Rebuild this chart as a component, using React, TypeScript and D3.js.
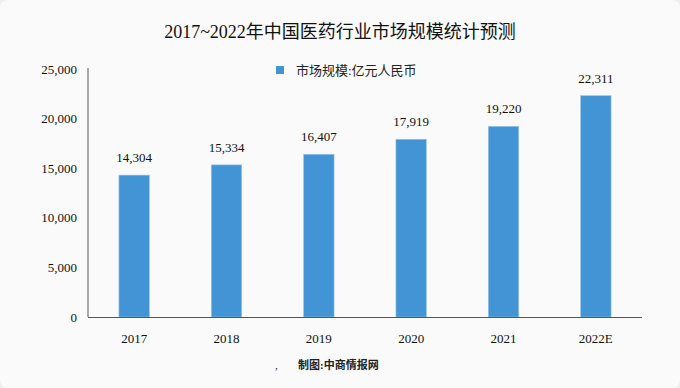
import React from "react";
import * as d3 from "d3";

const categories = ["2017", "2018", "2019", "2020", "2021", "2022E"];
const values = [14304, 15334, 16407, 17919, 19220, 22311];
const yTicks = [0, 5000, 10000, 15000, 20000, 25000];
const title = "2017~2022年中国医药行业市场规模统计预测";
const legendLabel = "市场规模:亿元人民币";
const source = "制图:中商情报网";

const W = 680;
const H = 388;
const margin = { left: 88, right: 38, top: 69, bottom: 71 };
const serif = "'Liberation Serif', 'DejaVu Serif', 'Noto Sans CJK SC', serif";
const cjk = "'Liberation Serif', 'Noto Sans CJK SC', sans-serif";
const barColor = "#4394d4";

export default function App() {
  const x = d3
    .scaleBand<string>()
    .domain(categories)
    .range([margin.left, W - margin.right])
    .paddingInner(0.67)
    .paddingOuter(0.335);
  const y = d3.scaleLinear().domain([0, 25000]).range([H - margin.bottom, margin.top]);
  const fmt = d3.format(",");

  return (
    <div style={{ position: "absolute", left: 0, top: 0 }}>
      <svg width={W} height={H} style={{ display: "block" }}>
        <rect x={0} y={0} width={W} height={H} fill="#efefef" />
        <rect x={0} y={0} width={W} height={H} rx={8} ry={8} fill="#fafafa" />
        <text x={340} y={38} textAnchor="middle" fontFamily={cjk} fontSize={18} fill="#111">
          {title}
        </text>
        {/* legend */}
        <rect x={276} y={66} width={8} height={8} fill={barColor} />
        <text x={296} y={75} fontFamily={cjk} fontSize={13} fill="#222">
          {legendLabel}
        </text>
        {/* bars */}
        {values.map((v, i) => (
          <g key={categories[i]}>
            <rect
              x={x(categories[i])!}
              y={y(v)}
              width={x.bandwidth()}
              height={y(0) - y(v)}
              fill={barColor}
              stroke="#9cc6ea"
              strokeWidth={0.6}
            />
            <text
              x={x(categories[i])! + x.bandwidth() / 2}
              y={y(v) - 13}
              textAnchor="middle"
              fontFamily={serif}
              fontSize={13}
              fill="#111"
            >
              {fmt(v)}
            </text>
            <text
              x={x(categories[i])! + x.bandwidth() / 2}
              y={y(0) + 26}
              textAnchor="middle"
              fontFamily={serif}
              fontSize={13}
              fill="#111"
            >
              {categories[i]}
            </text>
          </g>
        ))}
        {/* y ticks */}
        {yTicks.map((t) => (
          <text
            key={t}
            x={77}
            y={y(t) + 4.5}
            textAnchor="end"
            fontFamily={serif}
            fontSize={13}
            fill="#111"
          >
            {fmt(t)}
          </text>
        ))}
        {/* axes */}
        <line x1={margin.left} x2={margin.left} y1={y(25000) - 1} y2={y(0)} stroke="#555" strokeWidth={1} />
        <line x1={margin.left} x2={W - margin.right} y1={y(0) + 0.5} y2={y(0) + 0.5} stroke="#555" strokeWidth={1} />
        {/* source */}
        <text x={275} y={369} fontFamily={cjk} fontSize={11} fill="#222">,</text>
        <text x={298} y={369} fontFamily={cjk} fontSize={11} fontWeight="bold" fill="#222">
          {source}
        </text>
      </svg>
    </div>
  );
}
